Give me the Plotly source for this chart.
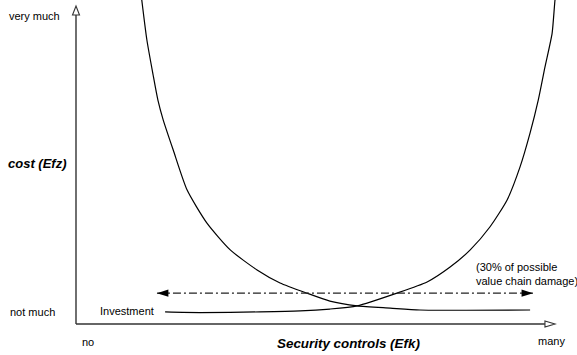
import plotly.graph_objects as go

# ---- data (conceptual units: security controls 0..10, cost 0..10) ----
damage_x = [1.36, 1.48, 1.61, 1.71, 1.82, 2.03, 2.32, 2.73, 3.22, 3.78, 4.26, 4.82,
            5.30, 5.87, 6.56, 7.18, 9.48]
damage_y = [10.35, 8.93, 7.83, 7.04, 6.42, 5.47, 4.21, 3.18, 2.33, 1.70, 1.29, 0.97,
            0.72, 0.57, 0.50, 0.44, 0.44]

invest_x = [1.86, 2.59, 3.84, 4.68, 5.30, 5.87, 6.70, 7.33, 7.81, 8.23, 8.64, 9.00,
            9.27, 9.48, 9.65, 9.79, 9.94, 10.00, 10.02]
invest_y = [0.38, 0.36, 0.38, 0.41, 0.47, 0.57, 0.97, 1.32, 1.79, 2.33, 3.05, 3.90,
            4.94, 6.01, 7.04, 8.08, 9.15, 10.19, 10.35]

damage_level_x = [1.69, 9.54]   # 30% of possible value chain damage
damage_level_y = [0.97, 0.97]

x_tick_labels = ["no", "many"]
y_tick_labels = ["not much", "very much"]
x_title = "Security controls (Efk)"
y_title = "cost (Efz)"
invest_label = "Investment"
damage_label = "(30% of possible<br>value chain damage)"

FONT = "Liberation Sans, Arial, Helvetica, sans-serif"
AX = "#333333"

fig = go.Figure()

fig.add_trace(go.Scatter(x=damage_x, y=damage_y, mode="lines",
                         line=dict(color="black", width=1.2, shape="spline", smoothing=0.6),
                         hoverinfo="skip", showlegend=False))
fig.add_trace(go.Scatter(x=invest_x, y=invest_y, mode="lines",
                         line=dict(color="black", width=1.2, shape="spline", smoothing=0.6),
                         hoverinfo="skip", showlegend=False))
fig.add_trace(go.Scatter(x=damage_level_x, y=damage_level_y, mode="lines",
                         line=dict(color="#222222", width=1.2, dash="8px,3px,2px,3px"),
                         hoverinfo="skip", showlegend=False))
fig.add_trace(go.Scatter(x=damage_level_x, y=damage_level_y, mode="markers",
                         marker=dict(symbol="arrow", size=12, angle=[-90, 90],
                                     color="black", line=dict(width=0)),
                         hoverinfo="skip", showlegend=False))

# axes with open arrowheads
fig.add_shape(type="line", x0=0, y0=0, x1=9.79, y1=0, line=dict(color=AX, width=1.4))
fig.add_shape(type="line", x0=0, y0=0, x1=0, y1=9.72, line=dict(color=AX, width=1.4))
fig.add_shape(type="path", path="M 9.79,0.094 L 10,0 L 9.79,-0.094 Z",
              fillcolor="white", line=dict(color=AX, width=1.1))
fig.add_shape(type="path", path="M -0.073,9.717 L 0,10 L 0.073,9.717 Z",
              fillcolor="white", line=dict(color=AX, width=1.1))

def note(text, x, y, xanchor, size=11, bold=False, align="left"):
    t = f"<b><i>{text}</i></b>" if bold else text
    fig.add_annotation(x=x, y=y, text=t, showarrow=False, xanchor=xanchor,
                       yanchor="middle", align=align,
                       font=dict(family=FONT, size=size, color="black"))

note(y_tick_labels[1], -0.30, 9.69, "right")
note(y_tick_labels[0], -0.40, 0.38, "right")
note(x_tick_labels[0], 0.08, -0.57, "left")
note(x_tick_labels[1], 9.60, -0.55, "left")
note(x_title, 5.69, -0.60, "center", size=13.4, bold=True)
note(y_title, -0.15, 5.06, "right", size=13, bold=True)
note(invest_label, 0.46, 0.41, "left")
note(damage_label, 8.31, 1.56, "left")

fig.update_layout(
    width=577, height=355,
    margin=dict(l=0, r=0, t=0, b=0),
    paper_bgcolor="white", plot_bgcolor="white",
    xaxis=dict(range=[-1.5866, 10.459], visible=False, fixedrange=True),
    yaxis=dict(range=[-0.975, 10.189], visible=False, fixedrange=True),
    showlegend=False,
)

fig.write_html("out.html",
               config={"displayModeBar": False, "staticPlot": True},
               post_script="document.body.style.margin='0';document.body.style.overflow='hidden';")
